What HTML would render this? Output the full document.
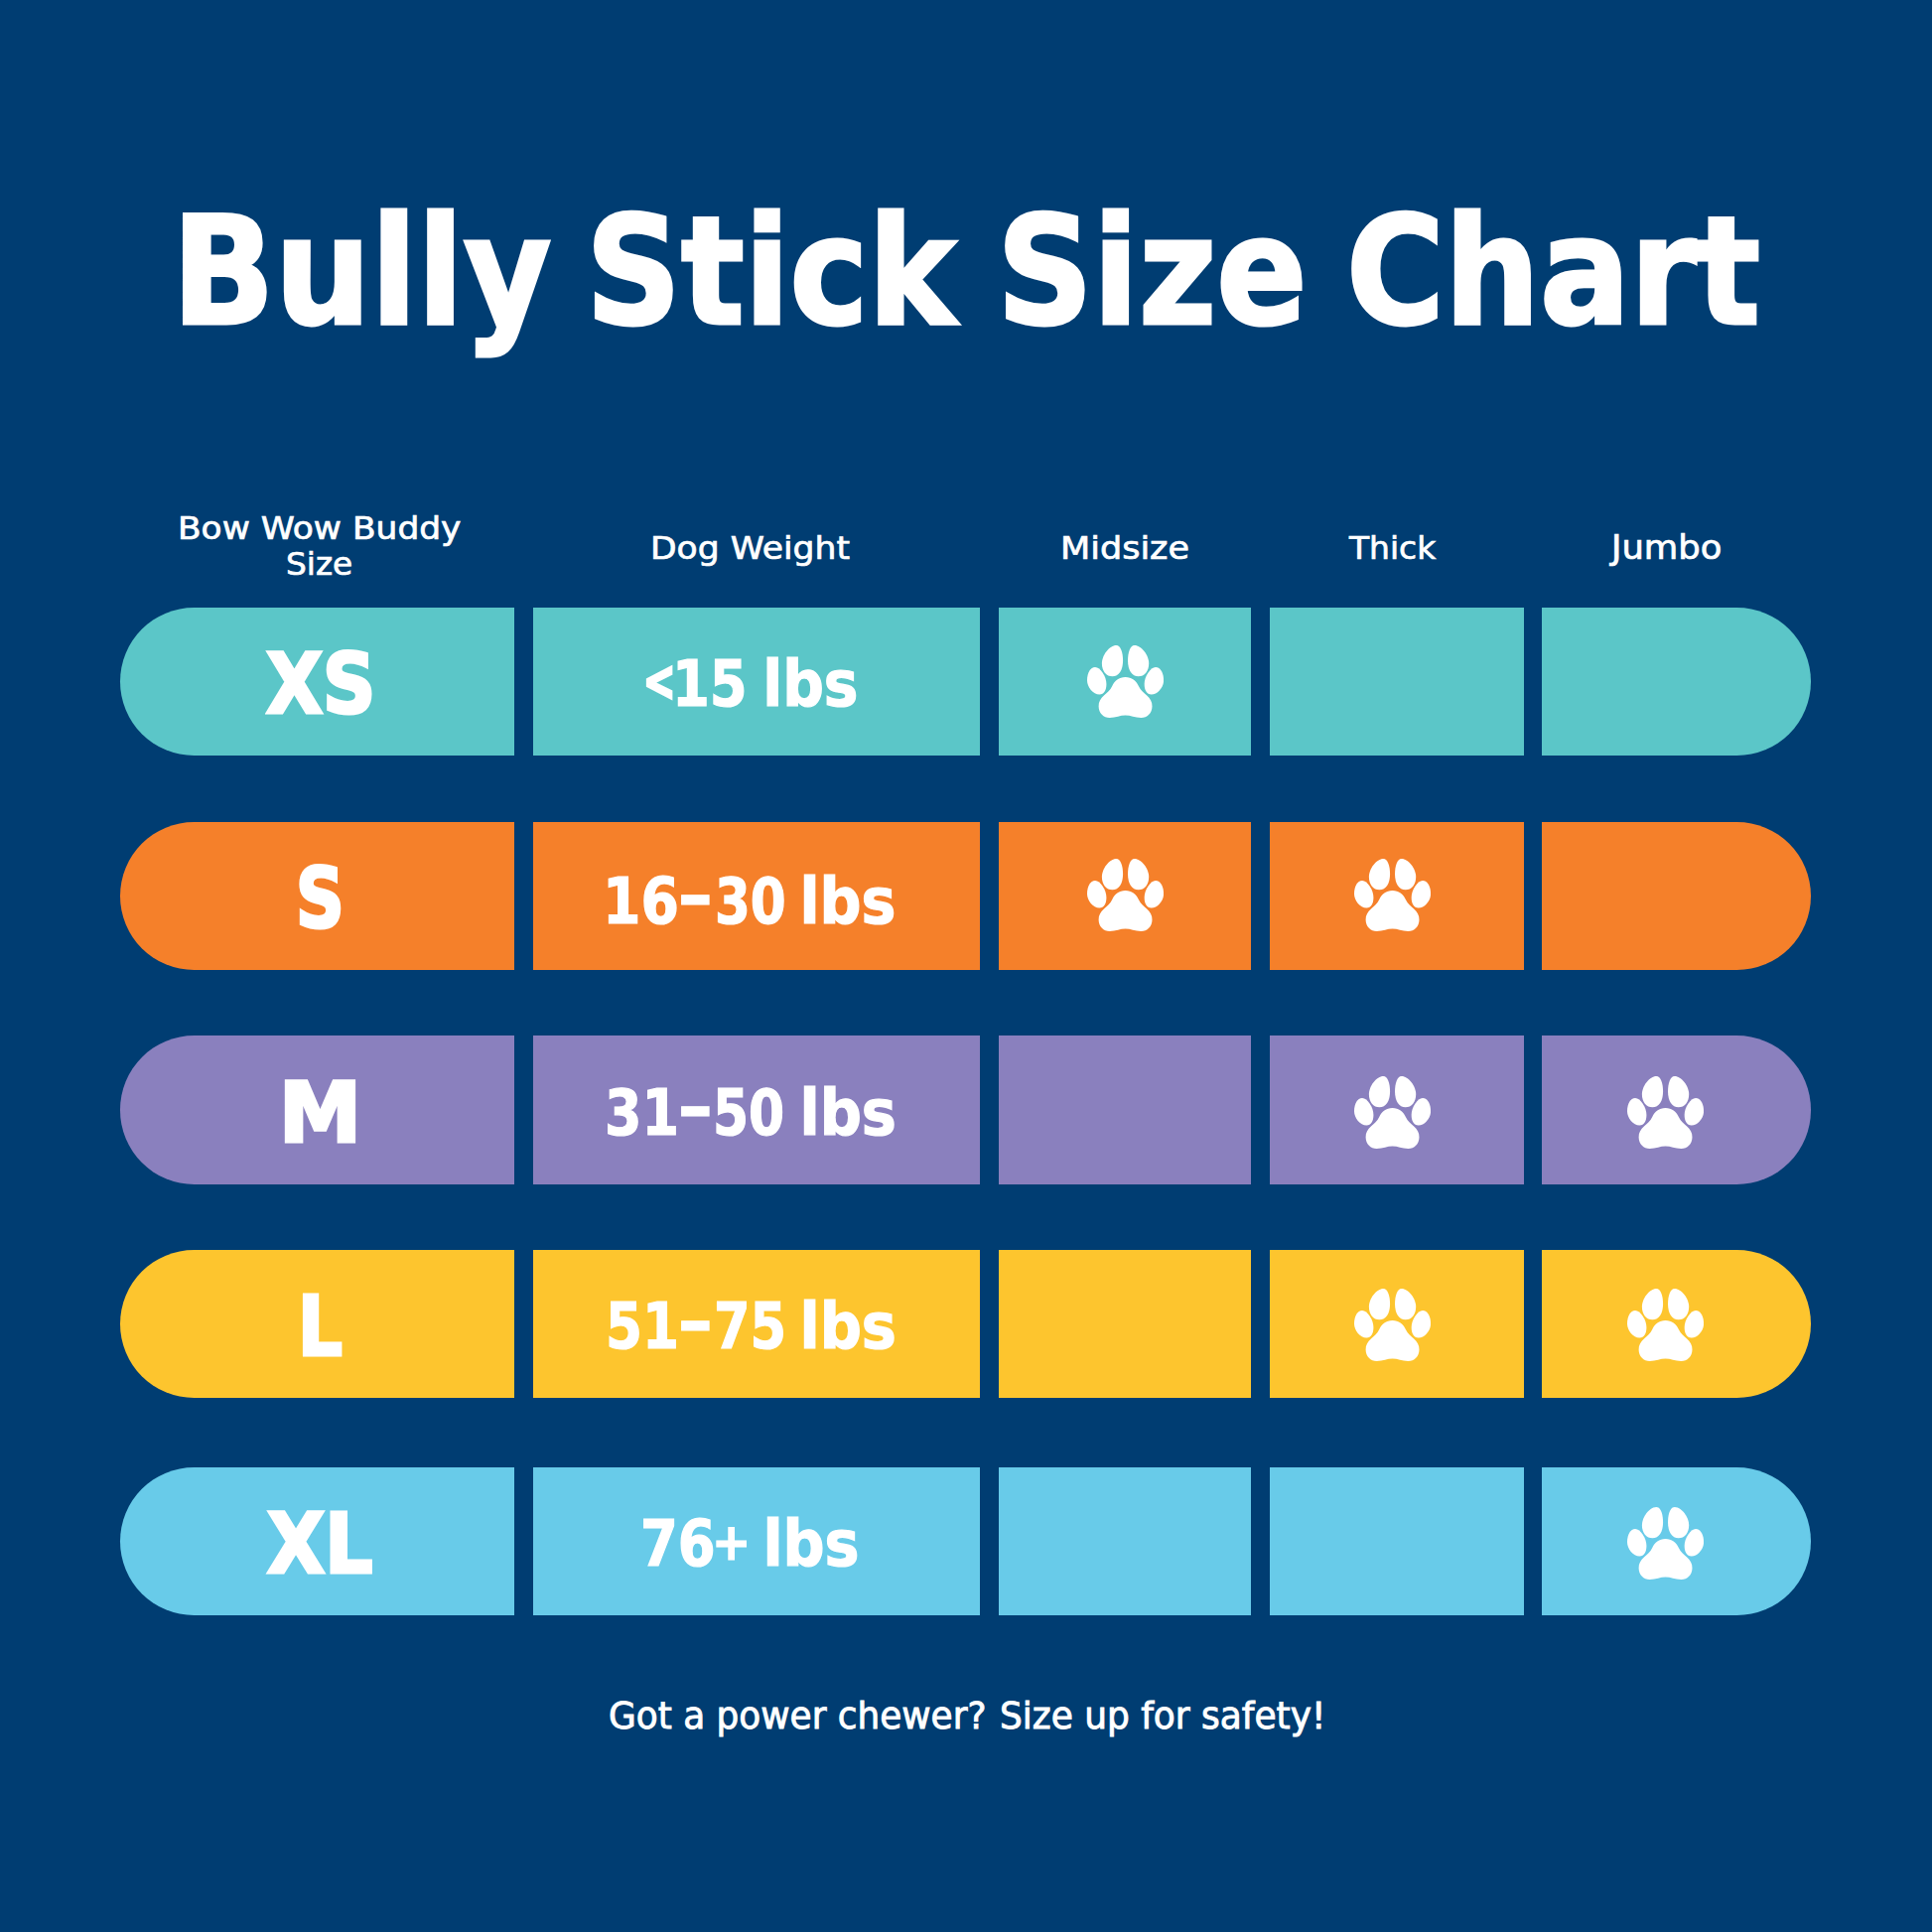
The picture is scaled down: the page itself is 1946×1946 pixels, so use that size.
<!DOCTYPE html>
<html lang="en">
<head>
<meta charset="utf-8">
<title>Bully Stick Size Chart</title>
<style>
html,body{margin:0;padding:0;background:#003d72}
body{width:1946px;height:1946px;overflow:hidden}
#chart{position:relative;width:1946px;height:1946px;background:#003d72;color:#fff;overflow:hidden;font-family:"DejaVu Sans", "Liberation Sans", sans-serif}
.t{position:absolute;display:block;margin:0;padding:0;white-space:pre;line-height:1;transform-origin:0 0;color:#fff;font-weight:400;font-family:"DejaVu Sans", "Liberation Sans", sans-serif}
.hv{font-family:"DejaVu Sans Condensed", "DejaVu Sans", "Liberation Sans", sans-serif;font-weight:700;font-stretch:condensed}
h1{margin:0;font-size:inherit;font-weight:inherit}
h1 .t{-webkit-text-stroke:3px #fff}
.lab{-webkit-text-stroke:3.2px #fff}
.wt{-webkit-text-stroke:1.2px #fff}
.lt{-webkit-text-stroke:3px #fff}
.hc .t{-webkit-text-stroke:0.7px #fff}
.foot{margin:0}
.foot .t{-webkit-text-stroke:0.9px #fff}
.row{position:absolute;left:0;width:1946px;height:149.6px}
.cell{position:absolute;top:0;height:100%}
.c0{left:121px;width:397.3px;border-radius:74.8px 0 0 74.8px}
.c1{left:537.1px;width:450px}
.c2{left:1005.7px;width:254.7px}
.c3{left:1279.2px;width:255.4px}
.c4{left:1552.7px;width:271.8px;border-radius:0 74.8px 74.8px 0}
.paw{position:absolute;width:77.1px;height:72.9px;fill:#fff;display:block}

.r0{top:611.7px}.r0 .cell{background:#5bc6c8}.r0 .paw{top:38.1px}
.r1{top:827.5px}.r1 .cell{background:#f5802a}.r1 .paw{top:37.3px}
.r2{top:1043.4px}.r2 .cell{background:#8a80be}.r2 .paw{top:40.5px}
.r3{top:1258.9px}.r3 .cell{background:#fdc52e}.r3 .paw{top:39.3px}
.r4{top:1477.8px}.r4 .cell{background:#68cbe9}.r4 .paw{top:39.9px}

</style>
</head>
<body>
<div id="chart">
<h1><span class="t hv" style="left:173.2px;top:197.87px;font-size:151.78px;transform:scaleX(0.9964)">Bully</span> <span class="t hv" style="left:590.07px;top:197.87px;font-size:151.78px;transform:scaleX(0.9770)">Stick</span> <span class="t hv" style="left:1004.11px;top:197.87px;font-size:151.78px;transform:scaleX(0.9850)">Size</span> <span class="t hv" style="left:1355.89px;top:197.87px;font-size:151.78px;transform:scaleX(0.9875)">Chart</span></h1>
<div class="head">
<div class="hc"><span class="t " style="left:179.1px;top:515.58px;font-size:32.05px;transform:scaleX(1.0742)">Bow Wow Buddy</span> <span class="t " style="left:288.13px;top:551.78px;font-size:32.05px;transform:scaleX(1.0222)">Size</span></div>
<div class="hc"><span class="t " style="left:655.49px;top:535.97px;font-size:32.19px;transform:scaleX(1.0736)">Dog Weight</span></div>
<div class="hc"><span class="t " style="left:1068.45px;top:536.15px;font-size:32.33px;transform:scaleX(1.0828)">Midsize</span></div>
<div class="hc"><span class="t " style="left:1358.92px;top:536.15px;font-size:32.33px;transform:scaleX(1.0172)">Thick</span></div>
<div class="hc"><span class="t " style="left:1622.92px;top:535.89px;font-size:32.88px;transform:scaleX(1.0762)">Jumbo</span></div>
</div>
<div class="row r0">
<div class="cell c0"><span class="t hv lab" style="left:147.04px;top:36.28px;font-size:83.56px;transform:scaleX(0.9843)">XS</span></div>
<div class="cell c1"><span class="t hv lt" style="left:110.51px;top:47.64px;font-size:54.78px;transform:scaleX(0.7805)">&lt;</span><span class="t hv wt" style="left:140.22px;top:46.3px;font-size:63.84px;transform:scaleX(0.9472)">15</span><span class="t hv wt" style="left:210.73px;top:46.3px;font-size:63.84px;transform:scaleX(1.0125)"> lbs</span></div>
<div class="cell c2"><svg class="paw" style="left:89.35px" viewBox="355 222 1242 1173" preserveAspectRatio="none" role="img" aria-label="paw"><path d="M976 738C1080 738 1150 800 1190 880C1225 950 1270 985 1320 1030C1380 1085 1412 1140 1410 1210C1408 1320 1330 1395 1230 1395C1130 1395 1060 1358 976 1358C892 1358 822 1395 722 1395C622 1395 544 1320 542 1210C540 1140 572 1085 632 1030C682 985 727 950 762 880C802 800 872 738 976 738Z"/><path d="M828 222C900 222 936 340 936 470C936 620 870 726 765 726C665 726 595 640 595 515C595 380 720 222 828 222Z"/><path d="M485 578C570 578 668 730 668 850C668 950 630 1020 555 1020C450 1020 355 900 355 790C355 670 410 578 485 578Z"/><path d="M1124 222C1052 222 1016 340 1016 470C1016 620 1082 726 1187 726C1287 726 1357 640 1357 515C1357 380 1232 222 1124 222Z"/><path d="M1467 578C1382 578 1284 730 1284 850C1284 950 1322 1020 1397 1020C1502 1020 1597 900 1597 790C1597 670 1542 578 1467 578Z"/></svg></div>
<div class="cell c3"></div>
<div class="cell c4"></div>
</div>
<div class="row r1">
<div class="cell c0"><span class="t hv lab" style="left:177.22px;top:36.28px;font-size:83.56px;transform:scaleX(0.9008)">S</span></div>
<div class="cell c1"><span class="t hv wt" style="left:70.23px;top:49.3px;font-size:63.84px;transform:scaleX(0.9624)">16</span><span class="t hv wt" style="left:146.16px;top:36.92px;font-size:73.85px;transform:scaleX(1.0437)">–</span><span class="t hv wt" style="left:182.6px;top:49.3px;font-size:63.84px;transform:scaleX(0.8972)">30</span><span class="t hv wt" style="left:248.24px;top:49.3px;font-size:63.84px;transform:scaleX(1.0204)"> lbs</span></div>
<div class="cell c2"><svg class="paw" style="left:89.35px" viewBox="355 222 1242 1173" preserveAspectRatio="none" role="img" aria-label="paw"><path d="M976 738C1080 738 1150 800 1190 880C1225 950 1270 985 1320 1030C1380 1085 1412 1140 1410 1210C1408 1320 1330 1395 1230 1395C1130 1395 1060 1358 976 1358C892 1358 822 1395 722 1395C622 1395 544 1320 542 1210C540 1140 572 1085 632 1030C682 985 727 950 762 880C802 800 872 738 976 738Z"/><path d="M828 222C900 222 936 340 936 470C936 620 870 726 765 726C665 726 595 640 595 515C595 380 720 222 828 222Z"/><path d="M485 578C570 578 668 730 668 850C668 950 630 1020 555 1020C450 1020 355 900 355 790C355 670 410 578 485 578Z"/><path d="M1124 222C1052 222 1016 340 1016 470C1016 620 1082 726 1187 726C1287 726 1357 640 1357 515C1357 380 1232 222 1124 222Z"/><path d="M1467 578C1382 578 1284 730 1284 850C1284 950 1322 1020 1397 1020C1502 1020 1597 900 1597 790C1597 670 1542 578 1467 578Z"/></svg></div>
<div class="cell c3"><svg class="paw" style="left:85.15px" viewBox="355 222 1242 1173" preserveAspectRatio="none" role="img" aria-label="paw"><path d="M976 738C1080 738 1150 800 1190 880C1225 950 1270 985 1320 1030C1380 1085 1412 1140 1410 1210C1408 1320 1330 1395 1230 1395C1130 1395 1060 1358 976 1358C892 1358 822 1395 722 1395C622 1395 544 1320 542 1210C540 1140 572 1085 632 1030C682 985 727 950 762 880C802 800 872 738 976 738Z"/><path d="M828 222C900 222 936 340 936 470C936 620 870 726 765 726C665 726 595 640 595 515C595 380 720 222 828 222Z"/><path d="M485 578C570 578 668 730 668 850C668 950 630 1020 555 1020C450 1020 355 900 355 790C355 670 410 578 485 578Z"/><path d="M1124 222C1052 222 1016 340 1016 470C1016 620 1082 726 1187 726C1287 726 1357 640 1357 515C1357 380 1232 222 1124 222Z"/><path d="M1467 578C1382 578 1284 730 1284 850C1284 950 1322 1020 1397 1020C1502 1020 1597 900 1597 790C1597 670 1542 578 1467 578Z"/></svg></div>
<div class="cell c4"></div>
</div>
<div class="row r2">
<div class="cell c0"><span class="t hv lab" style="left:159.56px;top:36.28px;font-size:83.56px;transform:scaleX(1.1096)">M</span></div>
<div class="cell c1"><span class="t hv wt" style="left:72.27px;top:46.3px;font-size:63.84px;transform:scaleX(0.9374)">31</span><span class="t hv wt" style="left:146.16px;top:33.62px;font-size:73.85px;transform:scaleX(1.0437)">–</span><span class="t hv wt" style="left:181.4px;top:46.3px;font-size:63.84px;transform:scaleX(0.9024)">50</span><span class="t hv wt" style="left:247.6px;top:46.3px;font-size:63.84px;transform:scaleX(1.0260)"> lbs</span></div>
<div class="cell c2"></div>
<div class="cell c3"><svg class="paw" style="left:85.15px" viewBox="355 222 1242 1173" preserveAspectRatio="none" role="img" aria-label="paw"><path d="M976 738C1080 738 1150 800 1190 880C1225 950 1270 985 1320 1030C1380 1085 1412 1140 1410 1210C1408 1320 1330 1395 1230 1395C1130 1395 1060 1358 976 1358C892 1358 822 1395 722 1395C622 1395 544 1320 542 1210C540 1140 572 1085 632 1030C682 985 727 950 762 880C802 800 872 738 976 738Z"/><path d="M828 222C900 222 936 340 936 470C936 620 870 726 765 726C665 726 595 640 595 515C595 380 720 222 828 222Z"/><path d="M485 578C570 578 668 730 668 850C668 950 630 1020 555 1020C450 1020 355 900 355 790C355 670 410 578 485 578Z"/><path d="M1124 222C1052 222 1016 340 1016 470C1016 620 1082 726 1187 726C1287 726 1357 640 1357 515C1357 380 1232 222 1124 222Z"/><path d="M1467 578C1382 578 1284 730 1284 850C1284 950 1322 1020 1397 1020C1502 1020 1597 900 1597 790C1597 670 1542 578 1467 578Z"/></svg></div>
<div class="cell c4"><svg class="paw" style="left:86.05px" viewBox="355 222 1242 1173" preserveAspectRatio="none" role="img" aria-label="paw"><path d="M976 738C1080 738 1150 800 1190 880C1225 950 1270 985 1320 1030C1380 1085 1412 1140 1410 1210C1408 1320 1330 1395 1230 1395C1130 1395 1060 1358 976 1358C892 1358 822 1395 722 1395C622 1395 544 1320 542 1210C540 1140 572 1085 632 1030C682 985 727 950 762 880C802 800 872 738 976 738Z"/><path d="M828 222C900 222 936 340 936 470C936 620 870 726 765 726C665 726 595 640 595 515C595 380 720 222 828 222Z"/><path d="M485 578C570 578 668 730 668 850C668 950 630 1020 555 1020C450 1020 355 900 355 790C355 670 410 578 485 578Z"/><path d="M1124 222C1052 222 1016 340 1016 470C1016 620 1082 726 1187 726C1287 726 1357 640 1357 515C1357 380 1232 222 1124 222Z"/><path d="M1467 578C1382 578 1284 730 1284 850C1284 950 1322 1020 1397 1020C1502 1020 1597 900 1597 790C1597 670 1542 578 1467 578Z"/></svg></div>
</div>
<div class="row r3">
<div class="cell c0"><span class="t hv lab" style="left:179.05px;top:36.28px;font-size:83.56px;transform:scaleX(0.9347)">L</span></div>
<div class="cell c1"><span class="t hv wt" style="left:73.22px;top:46.3px;font-size:63.84px;transform:scaleX(0.9250)">51</span><span class="t hv wt" style="left:146.16px;top:33.92px;font-size:73.85px;transform:scaleX(1.0437)">–</span><span class="t hv wt" style="left:181.65px;top:46.3px;font-size:63.84px;transform:scaleX(0.9142)">75</span><span class="t hv wt" style="left:247.6px;top:46.3px;font-size:63.84px;transform:scaleX(1.0260)"> lbs</span></div>
<div class="cell c2"></div>
<div class="cell c3"><svg class="paw" style="left:85.15px" viewBox="355 222 1242 1173" preserveAspectRatio="none" role="img" aria-label="paw"><path d="M976 738C1080 738 1150 800 1190 880C1225 950 1270 985 1320 1030C1380 1085 1412 1140 1410 1210C1408 1320 1330 1395 1230 1395C1130 1395 1060 1358 976 1358C892 1358 822 1395 722 1395C622 1395 544 1320 542 1210C540 1140 572 1085 632 1030C682 985 727 950 762 880C802 800 872 738 976 738Z"/><path d="M828 222C900 222 936 340 936 470C936 620 870 726 765 726C665 726 595 640 595 515C595 380 720 222 828 222Z"/><path d="M485 578C570 578 668 730 668 850C668 950 630 1020 555 1020C450 1020 355 900 355 790C355 670 410 578 485 578Z"/><path d="M1124 222C1052 222 1016 340 1016 470C1016 620 1082 726 1187 726C1287 726 1357 640 1357 515C1357 380 1232 222 1124 222Z"/><path d="M1467 578C1382 578 1284 730 1284 850C1284 950 1322 1020 1397 1020C1502 1020 1597 900 1597 790C1597 670 1542 578 1467 578Z"/></svg></div>
<div class="cell c4"><svg class="paw" style="left:86.05px" viewBox="355 222 1242 1173" preserveAspectRatio="none" role="img" aria-label="paw"><path d="M976 738C1080 738 1150 800 1190 880C1225 950 1270 985 1320 1030C1380 1085 1412 1140 1410 1210C1408 1320 1330 1395 1230 1395C1130 1395 1060 1358 976 1358C892 1358 822 1395 722 1395C622 1395 544 1320 542 1210C540 1140 572 1085 632 1030C682 985 727 950 762 880C802 800 872 738 976 738Z"/><path d="M828 222C900 222 936 340 936 470C936 620 870 726 765 726C665 726 595 640 595 515C595 380 720 222 828 222Z"/><path d="M485 578C570 578 668 730 668 850C668 950 630 1020 555 1020C450 1020 355 900 355 790C355 670 410 578 485 578Z"/><path d="M1124 222C1052 222 1016 340 1016 470C1016 620 1082 726 1187 726C1287 726 1357 640 1357 515C1357 380 1232 222 1124 222Z"/><path d="M1467 578C1382 578 1284 730 1284 850C1284 950 1322 1020 1397 1020C1502 1020 1597 900 1597 790C1597 670 1542 578 1467 578Z"/></svg></div>
</div>
<div class="row r4">
<div class="cell c0"><span class="t hv lab" style="left:148.15px;top:36.28px;font-size:83.56px;transform:scaleX(1.0039)">XL</span></div>
<div class="cell c1"><span class="t hv wt" style="left:107.84px;top:46.5px;font-size:63.84px;transform:scaleX(0.9468)">76</span><span class="t hv wt" style="left:179.44px;top:49.48px;font-size:52.06px;transform:scaleX(1.0027)">+</span><span class="t hv wt" style="left:211.29px;top:46.5px;font-size:63.84px;transform:scaleX(1.0226)"> lbs</span></div>
<div class="cell c2"></div>
<div class="cell c3"></div>
<div class="cell c4"><svg class="paw" style="left:86.05px" viewBox="355 222 1242 1173" preserveAspectRatio="none" role="img" aria-label="paw"><path d="M976 738C1080 738 1150 800 1190 880C1225 950 1270 985 1320 1030C1380 1085 1412 1140 1410 1210C1408 1320 1330 1395 1230 1395C1130 1395 1060 1358 976 1358C892 1358 822 1395 722 1395C622 1395 544 1320 542 1210C540 1140 572 1085 632 1030C682 985 727 950 762 880C802 800 872 738 976 738Z"/><path d="M828 222C900 222 936 340 936 470C936 620 870 726 765 726C665 726 595 640 595 515C595 380 720 222 828 222Z"/><path d="M485 578C570 578 668 730 668 850C668 950 630 1020 555 1020C450 1020 355 900 355 790C355 670 410 578 485 578Z"/><path d="M1124 222C1052 222 1016 340 1016 470C1016 620 1082 726 1187 726C1287 726 1357 640 1357 515C1357 380 1232 222 1124 222Z"/><path d="M1467 578C1382 578 1284 730 1284 850C1284 950 1322 1020 1397 1020C1502 1020 1597 900 1597 790C1597 670 1542 578 1467 578Z"/></svg></div>
</div>
<p class="foot"><span class="t " style="left:613.37px;top:1710.69px;font-size:36.71px;transform:scaleX(0.9770)">Got a power chewer?</span> <span class="t " style="left:1007.1px;top:1710.69px;font-size:36.71px;transform:scaleX(0.9791)">Size up for safety!</span></p>
</div>
</body>
</html>
